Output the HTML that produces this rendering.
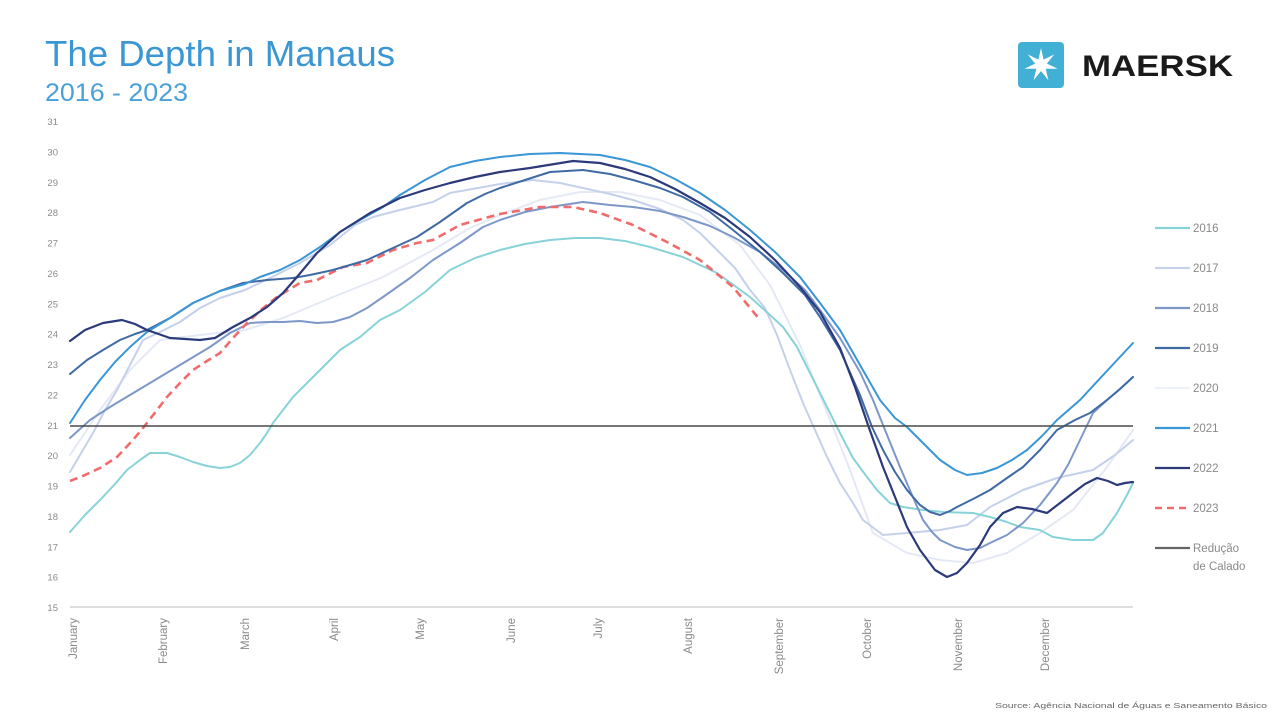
<!DOCTYPE html>
<html>
<head>
<meta charset="utf-8">
<style>
  html,body{margin:0;padding:0;background:#fff;}
  svg{display:block;}
  text{font-family:"Liberation Sans",sans-serif;}
</style>
</head>
<body>
<svg width="1280" height="720" viewBox="0 0 1280 720" xmlns="http://www.w3.org/2000/svg">
  <rect width="1280" height="720" fill="#fff"/>

  <!-- Title -->
  <text x="45" y="66" font-size="36" fill="#3b97d3" textLength="350" lengthAdjust="spacingAndGlyphs">The Depth in Manaus</text>
  <text x="45" y="101" font-size="25" fill="#4aa0d8" textLength="143" lengthAdjust="spacingAndGlyphs">2016 - 2023</text>

  <!-- Maersk logo -->
  <rect x="1018" y="42" width="46" height="46" rx="4" fill="#42b0d5"/>
  <polygon fill="#fff" points="1041,48 1043.6,59.6 1054.3,54.4 1046.85,63.66 1057.6,68.8 1045.7,68.7 1048.4,80.3 1041,71 1033.6,80.3 1036.3,68.7 1024.4,68.8 1035.15,63.66 1027.7,54.4 1038.4,59.6"/>
  <text x="1082" y="76" font-size="30" font-weight="bold" fill="#1a1a1a" textLength="151" lengthAdjust="spacingAndGlyphs">MAERSK</text>

  <!-- Y axis labels -->
  <g font-size="9.5" fill="#8a8a8a" text-anchor="end">
    <text x="58" y="125">31</text>
    <text x="58" y="155.4">30</text>
    <text x="58" y="185.8">29</text>
    <text x="58" y="216.1">28</text>
    <text x="58" y="246.5">27</text>
    <text x="58" y="276.9">26</text>
    <text x="58" y="307.3">25</text>
    <text x="58" y="337.6">24</text>
    <text x="58" y="368">23</text>
    <text x="58" y="398.4">22</text>
    <text x="58" y="428.8">21</text>
    <text x="58" y="459.1">20</text>
    <text x="58" y="489.5">19</text>
    <text x="58" y="519.9">18</text>
    <text x="58" y="550.3">17</text>
    <text x="58" y="580.6">16</text>
    <text x="58" y="611">15</text>
  </g>

  <!-- X axis line -->
  <line x1="70" y1="607" x2="1133" y2="607" stroke="#dedede" stroke-width="2"/>

  <!-- X labels (rotated) -->
  <g font-size="11.5" fill="#8a8a8a" text-anchor="end">
    <text transform="translate(77,618) rotate(-90)">January</text>
    <text transform="translate(167,618) rotate(-90)">February</text>
    <text transform="translate(249,618) rotate(-90)">March</text>
    <text transform="translate(338,618) rotate(-90)">April</text>
    <text transform="translate(424,618) rotate(-90)">May</text>
    <text transform="translate(515,618) rotate(-90)">June</text>
    <text transform="translate(602,618) rotate(-90)">July</text>
    <text transform="translate(692,618) rotate(-90)">August</text>
    <text transform="translate(783,618) rotate(-90)">September</text>
    <text transform="translate(871,618) rotate(-90)">October</text>
    <text transform="translate(962,618) rotate(-90)">November</text>
    <text transform="translate(1049,618) rotate(-90)">December</text>
  </g>

  <g fill="none" stroke-linejoin="round" stroke-linecap="round">
    <!-- 2020 -->
    <polyline stroke="#e4e9f4" stroke-width="2" points="70,455 100,410 130,370 160,340 200,335 245,330 283,318 333,297 383,277 433,250 470,228 500,215 540,200 580,192 620,192 660,200 700,215 740,245 770,285 800,345 830,420 850,470 873,533 907,553 940,560 973,563 1007,553 1040,533 1073,510 1107,467 1133,430"/>
    <!-- 2017 -->
    <polyline stroke="#c5d0ea" stroke-width="2" points="70,472 80,455 93,433 105,410 117,390 130,365 143,340 160,332 180,322 200,308 220,298 245,290 270,278 300,263 330,245 355,225 373,217 400,210 433,202 450,193 500,184 533,180 560,183 583,188 610,194 633,200 660,209 683,220 700,233 717,250 735,268 750,290 765,308 777,335 790,370 803,403 815,430 827,457 840,483 853,503 863,520 883,535 907,533 940,530 967,525 990,507 1023,490 1057,478 1093,470 1115,455 1133,440"/>
    <!-- 2016 -->
    <polyline stroke="#88d3d8" stroke-width="2" points="70,532 85,515 100,500 115,484 127,470 140,460 150,453 167,453 180,457 193,462 207,466 220,468 230,467 240,463 250,455 260,443 267,433 273,423 283,410 293,397 310,380 327,363 340,350 360,337 380,320 400,310 425,292 450,270 475,258 500,250 525,244 550,240 575,238 600,238 625,241 650,247 683,257 717,273 750,297 770,315 783,327 797,347 810,373 825,403 840,433 853,458 867,477 877,490 890,503 903,507 923,510 943,512 973,513 990,517 1007,522 1020,527 1040,530 1053,537 1073,540 1093,540 1103,533 1110,523 1117,513 1127,495 1133,483"/>
    <!-- 2018 -->
    <polyline stroke="#7d97c9" stroke-width="2" points="70,438 90,420 110,407 135,392 160,377 185,362 210,347 230,333 250,323 267,322 283,322 300,321 317,323 333,322 350,317 367,308 383,297 410,278 433,260 460,243 483,227 500,220 525,212 550,207 583,202 610,205 633,207 660,211 683,217 710,226 733,237 760,252 783,270 805,290 820,310 840,338 860,372 873,400 883,425 900,467 912,495 923,520 932,532 940,540 955,547 967,550 980,548 990,543 1007,535 1023,523 1040,505 1057,483 1068,465 1080,440 1093,413 1107,400 1120,389 1133,377"/>
    <!-- 2023 -->
    <polyline stroke="#f06b6b" stroke-width="2.6" stroke-dasharray="8,5" stroke-linecap="butt" points="70,481 85,475 100,468 117,457 133,440 147,423 157,410 167,397 180,383 193,370 207,361 220,353 233,338 247,323 262,309 277,297 290,289 300,283 317,280 343,267 367,263 393,250 417,243 433,240 460,225 467,223 500,214 540,207 573,207 600,213 633,225 667,242 700,260 733,287 760,320"/>
    <!-- 2019 -->
    <polyline stroke="#3f6aa3" stroke-width="2" points="70,374 87,360 103,350 120,340 135,334 147,330 170,318 193,303 220,291 243,283 267,280 293,278 310,275 333,270 350,265 367,260 393,248 417,237 440,222 467,203 485,194 500,188 525,180 550,172 583,170 610,174 633,180 660,188 683,197 710,212 733,230 760,252 783,273 805,295 820,317 840,350 860,395 872,427 883,450 895,472 907,490 920,505 930,512 940,515 950,511 957,507 975,498 990,490 1007,478 1023,467 1040,450 1057,430 1075,420 1090,413 1107,400 1120,389 1133,377"/>
    <!-- 2021 -->
    <polyline stroke="#3a96d4" stroke-width="2" points="70,423 85,400 100,380 115,362 130,347 147,332 170,318 193,303 220,291 245,284 260,277 280,270 300,260 320,247 340,232 360,220 383,207 400,195 425,180 450,167 475,161 500,157 530,154 560,153 600,155 625,160 650,167 675,179 700,193 725,210 750,230 775,252 800,277 820,303 840,330 860,365 880,400 895,418 907,427 925,445 940,460 955,470 967,475 982,473 997,468 1012,460 1027,450 1042,436 1057,420 1080,400 1105,373 1133,343"/>
    <!-- 2022 -->
    <polyline stroke="#2c3a7a" stroke-width="2.2" points="70,341 85,330 103,323 122,320 135,324 147,330 170,338 200,340 215,338 233,327 250,318 267,307 283,293 297,277 317,253 340,232 370,213 400,198 425,190 450,183 475,177 500,172 530,168 573,161 600,163 625,169 650,177 675,189 700,203 725,218 750,237 775,260 800,287 820,312 840,348 855,387 868,425 883,467 895,497 907,527 920,550 935,570 947,577 957,573 967,563 980,545 990,527 1003,513 1017,507 1032,509 1047,513 1060,503 1073,493 1085,484 1097,478 1108,481 1117,485 1125,483 1133,482"/>
  </g>

  <!-- Redução de Calado line -->
  <line x1="70" y1="426" x2="1133" y2="426" stroke="#4a4a4a" stroke-width="1.6"/>

  <!-- Legend -->
  <g stroke-width="2.2" fill="none">
    <line x1="1155" y1="228" x2="1190" y2="228" stroke="#88d3d8"/>
    <line x1="1155" y1="268" x2="1190" y2="268" stroke="#c8d2ea"/>
    <line x1="1155" y1="308" x2="1190" y2="308" stroke="#7d97c9"/>
    <line x1="1155" y1="348" x2="1190" y2="348" stroke="#3f6aa3"/>
    <line x1="1155" y1="388" x2="1190" y2="388" stroke="#eef1f7"/>
    <line x1="1155" y1="428" x2="1190" y2="428" stroke="#3a96d4"/>
    <line x1="1155" y1="468" x2="1190" y2="468" stroke="#2c3a7a"/>
    <line x1="1155" y1="508" x2="1190" y2="508" stroke="#f06b6b" stroke-width="2.6" stroke-dasharray="7,5"/>
    <line x1="1155" y1="548" x2="1190" y2="548" stroke="#666"/>
  </g>
  <g font-size="11.5" fill="#8a8a8a">
    <text x="1193" y="232">2016</text>
    <text x="1193" y="272">2017</text>
    <text x="1193" y="312">2018</text>
    <text x="1193" y="352">2019</text>
    <text x="1193" y="392">2020</text>
    <text x="1193" y="432">2021</text>
    <text x="1193" y="472">2022</text>
    <text x="1193" y="512">2023</text>
    <text x="1193" y="552">Redução</text>
    <text x="1193" y="570">de Calado</text>
  </g>

  <!-- Source -->
  <text x="995" y="708" font-size="7" fill="#666" textLength="272" lengthAdjust="spacingAndGlyphs">Source: Agência Nacional de Águas e Saneamento Básico</text>
</svg>
</body>
</html>
